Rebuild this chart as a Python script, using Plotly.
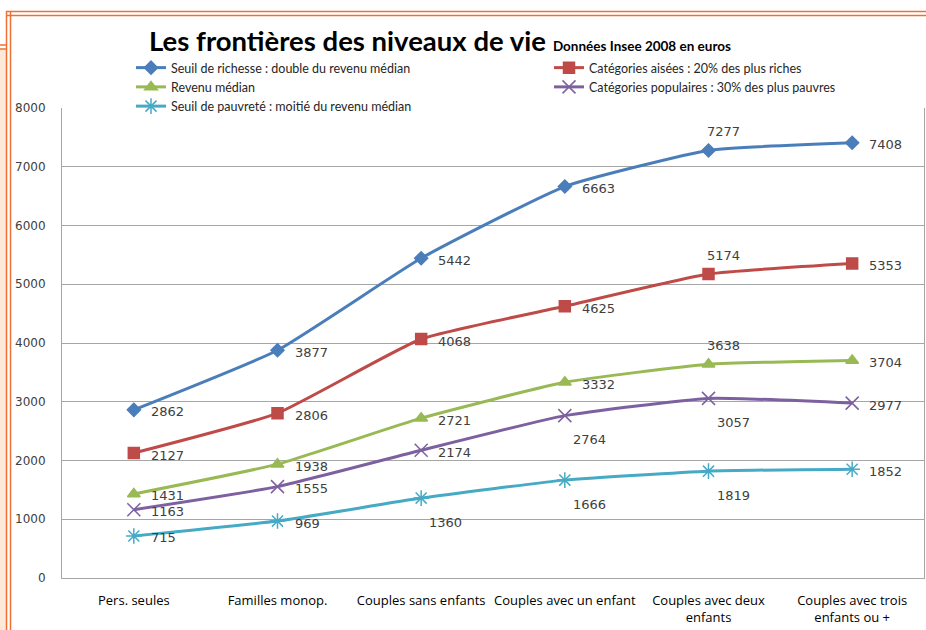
import plotly.graph_objects as go

categories = ["Pers. seules", "Familles monop.", "Couples sans enfants", "Couples avec un enfant",
              "Couples avec deux<br>enfants", "Couples avec trois<br>enfants ou +"]
seuil_richesse = [2862, 3877, 5442, 6663, 7277, 7408]
categories_aisees = [2127, 2806, 4068, 4625, 5174, 5353]
revenu_median = [1431, 1938, 2721, 3332, 3638, 3704]
categories_populaires = [1163, 1555, 2174, 2764, 3057, 2977]
seuil_pauvrete = [715, 969, 1360, 1666, 1819, 1852]

names = ["Seuil de richesse : double du revenu médian",
         "Catégories aisées : 20% des plus riches",
         "Revenu médian",
         "Catégories populaires : 30% des plus pauvres",
         "Seuil de pauvreté : moitié du revenu médian"]
series = [seuil_richesse, categories_aisees, revenu_median, categories_populaires, seuil_pauvrete]

colors = ["#4a7ebb", "#be4b48", "#98b954", "#7d60a0", "#46aac5"]
symbols = ["diamond", "square", "triangle-up", "x-thin-open", "asterisk-open"]
msizes = [10, 11, 11, 13, 13]
legends = ["legend", "legend2", "legend", "legend2", "legend"]

# label placement styles: (xshift, yshift) with left-anchored text
R, T, B = (15, -2), (-4, 19), (6, -24)
labelpos = [
    [R, R, R, R, T, R],
    [R, R, R, R, T, R],
    [R, R, R, R, T, R],
    [R, R, R, B, B, R],
    [R, R, B, B, B, R],
]

W, H = 926, 630
L, Rm, Tm, Bm = 62, 2, 108, 52
PW, PH = W - L - Rm, H - Tm - Bm


def px2x(px):
    return (px - L) / PW


def px2y(py):
    return (H - Bm - py) / PH


fig = go.Figure()
annotations = []
xs = list(range(len(categories)))
for name, vals, col, sym, ms, lp, lg in zip(names, series, colors, symbols, msizes, labelpos, legends):
    fig.add_trace(go.Scatter(
        x=xs, y=vals, name=name, legend=lg,
        mode="lines+markers",
        line=dict(color=col, width=3, shape="spline", smoothing=0.45),
        marker=dict(symbol=sym, size=ms, color=col, line=dict(color=col, width=1.5)),
        cliponaxis=False,
    ))
    for xi, v, (dx, dy) in zip(xs, vals, lp):
        annotations.append(dict(
            x=xi, y=v, xref="x", yref="y", text=str(v), showarrow=False,
            xanchor="left", yanchor="middle", xshift=dx, yshift=dy,
            font=dict(family="DejaVu Sans", size=13, color="#404040"),
        ))

orange = "#f07032"
shapes = [
    dict(type="rect", xref="paper", yref="paper", x0=px2x(0), x1=px2x(6), y0=px2y(630), y1=px2y(49),
         fillcolor="#fde9d9", line=dict(width=0), layer="below"),
]
for off in (0, 4):
    shapes.append(dict(type="line", xref="paper", yref="paper", x0=px2x(6), x1=px2x(926),
                       y0=px2y(11.5 + off), y1=px2y(11.5 + off), line=dict(color=orange, width=1.5)))
    shapes.append(dict(type="line", xref="paper", yref="paper", x0=px2x(6.5 + off), x1=px2x(6.5 + off),
                       y0=px2y(11), y1=px2y(630), line=dict(color=orange, width=1.5)))
    shapes.append(dict(type="line", xref="paper", yref="paper", x0=px2x(0), x1=px2x(7),
                       y0=px2y(45 + off), y1=px2y(45 + off), line=dict(color=orange, width=1.5)))

legend_style = dict(
    orientation="v", yanchor="top", xanchor="left", itemwidth=30,
    font=dict(family="Lato", size=12.5, color="#262626"),
    bgcolor="rgba(0,0,0,0)", tracegroupgap=0, borderwidth=0,
)

fig.update_layout(
    width=W, height=H, autosize=False,
    margin=dict(l=L, r=Rm, t=Tm, b=Bm),
    paper_bgcolor="white", plot_bgcolor="white",
    title=dict(
        text="<b>Les frontières des niveaux de vie</b> <b><span style='font-size:13.5px'>Données Insee 2008 en euros</span></b>",
        font=dict(family="Lato", size=27.5, color="#000000"),
        x=149 / W, xanchor="left", y=1 - 41 / H, yanchor="middle", xref="container", yref="container",
    ),
    legend=dict(x=px2x(131), y=px2y(53), **legend_style),
    legend2=dict(x=px2x(549), y=px2y(53), **legend_style),
    shapes=shapes,
    annotations=annotations,
    showlegend=True,
)
fig.update_xaxes(
    range=[-0.5, 5.5], tickmode="array", tickvals=xs, ticktext=categories,
    showgrid=False, showline=True, linecolor="#a6a6a6", linewidth=1, ticks="", zeroline=False,
    tickfont=dict(family="Open Sans", size=13, color="#000000"), ticklabelstandoff=10,
)
fig.update_yaxes(
    range=[0, 8000], dtick=1000, showgrid=True, gridcolor="#a6a6a6", gridwidth=1,
    showline=True, linecolor="#a6a6a6", linewidth=1, mirror=True, ticks="", zeroline=False,
    tickfont=dict(family="DejaVu Sans", size=12, color="#404040"), ticklabelstandoff=13,
)

fig.write_html("out.html", config={"displayModeBar": False},
               post_script="document.body.style.margin='0';document.body.style.overflow='hidden';")
